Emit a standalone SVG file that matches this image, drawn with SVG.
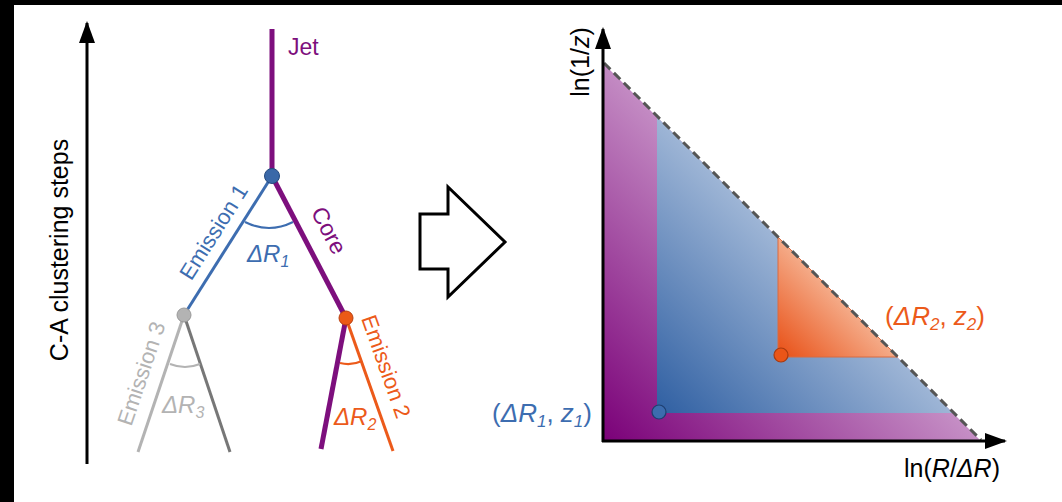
<svg xmlns="http://www.w3.org/2000/svg" width="1062" height="502" viewBox="0 0 1062 502">
<style>
  text{font-family:"Liberation Sans",Arial,sans-serif}
  .pur{fill:#7d0f7d}
  .blu{fill:#3d6db0}
  .org{fill:#ec5a1a}
  .gry{fill:#b3b3b3}
  .it{font-style:italic}
  .axis{stroke:#000;stroke-width:3;fill:none}
</style>
<defs>
  <linearGradient id="gP" gradientUnits="userSpaceOnUse" x1="603" y1="441" x2="800" y2="250">
    <stop offset="0" stop-color="#7a0078"/><stop offset="1" stop-color="#c690c6"/>
  </linearGradient>
  <linearGradient id="gB" gradientUnits="userSpaceOnUse" x1="657" y1="413" x2="820" y2="250">
    <stop offset="0" stop-color="#2f5fa2"/><stop offset="1" stop-color="#a9bedb"/>
  </linearGradient>
  <linearGradient id="gO" gradientUnits="userSpaceOnUse" x1="778" y1="357" x2="840" y2="295">
    <stop offset="0" stop-color="#e84e14"/><stop offset="1" stop-color="#f5ae8c"/>
  </linearGradient>
  <marker id="ah" markerUnits="userSpaceOnUse" markerWidth="22" markerHeight="18" refX="20" refY="9" orient="auto">
    <path d="M0,1 L22,9 L0,17 z" fill="#000"/>
  </marker>
</defs>
<rect x="0" y="0" width="1062" height="502" fill="#fff"/>
<rect x="0" y="0" width="1062" height="5" fill="#000"/>
<rect x="0" y="0" width="14" height="502" fill="#000"/>

<g id="left-axis">
  <line class="axis" x1="87" y1="464" x2="87" y2="23" marker-end="url(#ah)"/>
  <text transform="translate(68,250) rotate(-90)" text-anchor="middle" font-size="25" fill="#000">C-A clustering steps</text>
</g>

<g id="connectors">
  <line x1="272" y1="29" x2="272" y2="176" stroke="#7d0f7d" stroke-width="5"/>
  <line x1="272" y1="176" x2="184" y2="315" stroke="#3d6db0" stroke-width="3"/>
  <line x1="272" y1="176" x2="346" y2="318" stroke="#7d0f7d" stroke-width="5"/>
  <line x1="184" y1="315" x2="138" y2="452" stroke="#b3b3b3" stroke-width="3"/>
  <line x1="184" y1="315" x2="230" y2="452" stroke="#777" stroke-width="3"/>
  <line x1="346" y1="318" x2="321" y2="449" stroke="#7d0f7d" stroke-width="5"/>
  <line x1="346" y1="318" x2="393" y2="451" stroke="#ec5a1a" stroke-width="3"/>
  <path d="M245,222 Q269,234 293,222" fill="none" stroke="#3d6db0" stroke-width="2"/>
  <path d="M170,364 Q185,370 200,364" fill="none" stroke="#b3b3b3" stroke-width="2"/>
  <path d="M340,363 Q351,366 362,361" fill="none" stroke="#ec5a1a" stroke-width="2"/>
</g>

<g id="jet">
  <text class="pur" x="288" y="55" font-size="23">Jet</text>
</g>
<g id="node-root">
  <circle cx="272" cy="176" r="7.5" fill="#3a68a8" stroke="#24497e" stroke-width="1"/>
</g>
<g id="emission1">
  <text class="blu" transform="translate(220,236) rotate(-57.7)" text-anchor="middle" font-size="22">Emission 1</text>
  <text class="blu it" x="247" y="262" font-size="24">ΔR<tspan dy="5" font-size="16">1</tspan></text>
</g>
<g id="core">
  <text class="pur" transform="translate(322,234) rotate(62.5)" text-anchor="middle" font-size="23">Core</text>
</g>
<g id="node-emission3">
  <circle cx="184" cy="315" r="7" fill="#b3b3b3" stroke="#999" stroke-width="1"/>
  <text class="gry" transform="translate(148.5,376) rotate(-71.4)" text-anchor="middle" font-size="22">Emission 3</text>
  <text class="gry it" x="162" y="413" font-size="24">ΔR<tspan dy="5" font-size="16">3</tspan></text>
</g>
<g id="node-emission2">
  <circle cx="346" cy="318" r="7" fill="#ec5a16" stroke="#b84010" stroke-width="1"/>
  <text class="org" transform="translate(379,369) rotate(70.5)" text-anchor="middle" font-size="22">Emission 2</text>
  <text class="org it" x="334" y="425" font-size="24">ΔR<tspan dy="5" font-size="16">2</tspan></text>
</g>

<g id="big-arrow">
  <polygon points="420,214 448,214 448,187 505,242 448,297 448,269 420,269" fill="#fff" stroke="#000" stroke-width="3" stroke-linejoin="miter"/>
</g>

<g id="lund-plane">
  <polygon points="603,63 603,441 981,441" fill="url(#gP)"/>
  <polygon points="657,117 657,413 953,413" fill="url(#gB)"/>
  <polygon points="778,237 778,357 898,357" fill="url(#gO)" stroke="#d86a40" stroke-width="1"/>
  <line x1="604" y1="63" x2="981" y2="440" stroke="#555" stroke-width="3" stroke-dasharray="9,5"/>
  <line class="axis" x1="603" y1="442" x2="603" y2="29" marker-end="url(#ah)"/>
  <line class="axis" x1="602" y1="441" x2="1005" y2="441" marker-end="url(#ah)"/>
  <text transform="translate(589,62) rotate(-90)" text-anchor="middle" font-size="25" fill="#000">ln(1/<tspan class="it">z</tspan>)</text>
  <text x="1000" y="477" text-anchor="end" font-size="25" fill="#000">ln(<tspan class="it">R</tspan>/<tspan class="it">ΔR</tspan>)</text>
</g>
<g id="point1">
  <circle cx="659" cy="412" r="7" fill="#3c6cae" stroke="#1e3f70" stroke-width="1.2"/>
  <text class="blu" x="592" y="422" text-anchor="end" font-size="26">(<tspan class="it">ΔR</tspan><tspan class="it" dy="5" font-size="17">1</tspan><tspan dy="-5">, </tspan><tspan class="it">z</tspan><tspan class="it" dy="5" font-size="17">1</tspan><tspan dy="-5">)</tspan></text>
</g>
<g id="point2">
  <circle cx="781" cy="355" r="7" fill="#ea5518" stroke="#a83a10" stroke-width="1.2"/>
  <text class="org" x="985" y="325" text-anchor="end" font-size="26">(<tspan class="it">ΔR</tspan><tspan class="it" dy="5" font-size="17">2</tspan><tspan dy="-5">, </tspan><tspan class="it">z</tspan><tspan class="it" dy="5" font-size="17">2</tspan><tspan dy="-5">)</tspan></text>
</g>
</svg>
